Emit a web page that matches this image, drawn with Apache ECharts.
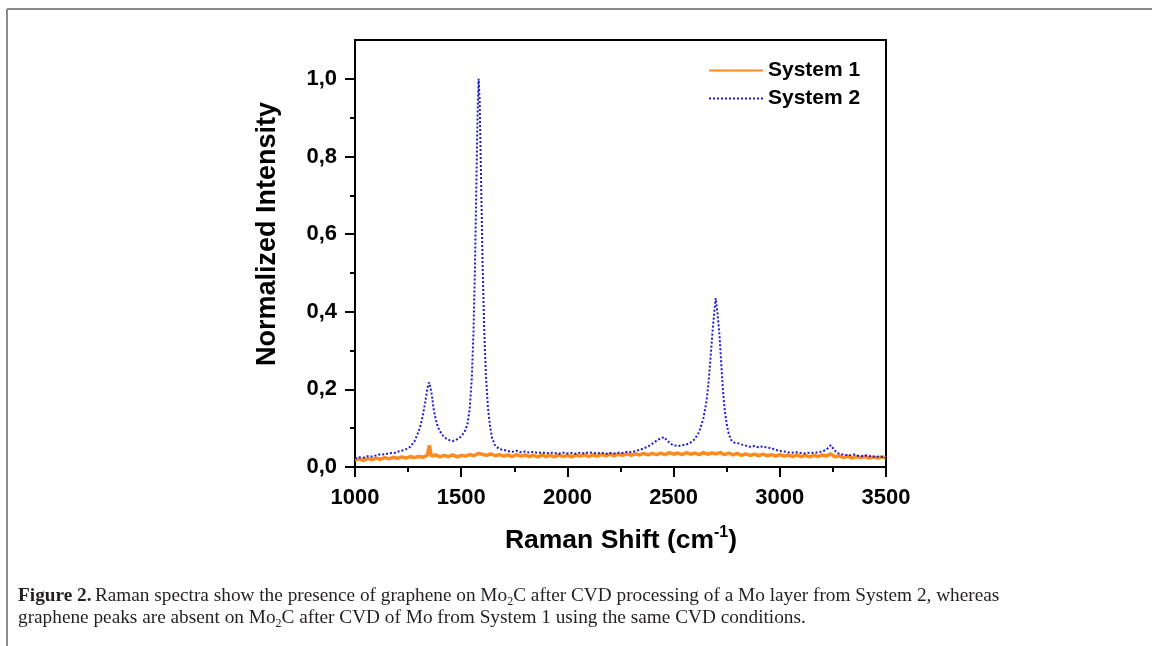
<!DOCTYPE html>
<html>
<head>
<meta charset="utf-8">
<script src="https://cdn.jsdelivr.net/npm/echarts@6/dist/echarts.min.js"></script>
<style>
  html, body { margin: 0; padding: 0; background: #fff; }
  #chart { width: 1152px; height: 646px; }
</style>
</head>
<body>
<div id="chart"></div>
<script>
// System 2 (graphene peaks D, G, 2D)
const shift2 = [1000,1020,1040,1060,1080,1100,1120,1140,1160,1180,1200,1220,1240,1260,1280,1300,1310,1320,1330,1340,1348,1355,1362,1370,1380,1390,1400,1415,1430,1445,1460,1475,1490,1505,1520,1530,1540,1550,1558,1565,1572,1578,1582,1587,1593,1600,1608,1616,1625,1635,1645,1660,1680,1700,1720,1740,1760,1780,1800,1820,1840,1860,1880,1900,1920,1940,1960,1980,2000,2020,2040,2060,2080,2100,2120,2140,2160,2180,2200,2220,2240,2260,2280,2300,2320,2340,2360,2380,2400,2420,2440,2455,2470,2485,2500,2520,2540,2560,2580,2600,2620,2640,2655,2665,2675,2685,2692,2698,2702,2706,2710,2716,2724,2732,2740,2750,2760,2770,2785,2800,2820,2840,2860,2880,2900,2920,2940,2960,2980,3000,3020,3040,3060,3080,3100,3120,3140,3160,3180,3200,3220,3240,3255,3270,3290,3310,3330,3350,3370,3390,3410,3430,3450,3470,3490,3500]
const intensity2 = [0.022,0.025,0.024,0.028,0.027,0.030,0.033,0.032,0.036,0.035,0.039,0.042,0.046,0.052,0.066,0.092,0.110,0.135,0.165,0.200,0.218,0.205,0.185,0.150,0.122,0.104,0.092,0.080,0.073,0.069,0.067,0.070,0.074,0.082,0.095,0.112,0.150,0.230,0.350,0.520,0.750,0.930,1.000,0.940,0.760,0.540,0.360,0.240,0.160,0.108,0.075,0.055,0.046,0.044,0.041,0.039,0.042,0.038,0.040,0.037,0.039,0.036,0.038,0.035,0.037,0.036,0.034,0.037,0.035,0.036,0.034,0.037,0.035,0.038,0.036,0.035,0.037,0.034,0.036,0.035,0.037,0.036,0.039,0.038,0.041,0.044,0.048,0.053,0.060,0.068,0.074,0.077,0.068,0.060,0.056,0.054,0.056,0.058,0.063,0.072,0.090,0.125,0.170,0.220,0.290,0.360,0.400,0.435,0.440,0.400,0.395,0.340,0.270,0.200,0.150,0.110,0.085,0.070,0.063,0.062,0.058,0.055,0.052,0.054,0.051,0.053,0.050,0.049,0.044,0.041,0.040,0.038,0.037,0.038,0.036,0.035,0.037,0.036,0.038,0.040,0.045,0.056,0.045,0.036,0.033,0.031,0.030,0.032,0.029,0.028,0.030,0.027,0.026,0.027,0.025,0.024]

// System 1 (flat, small spike near 1350)
const shift1 = [1000,1020,1040,1060,1080,1100,1120,1140,1160,1180,1200,1220,1240,1260,1280,1300,1320,1340,1350,1360,1380,1400,1420,1440,1460,1480,1500,1520,1540,1560,1580,1600,1620,1640,1660,1680,1700,1720,1740,1760,1780,1800,1820,1840,1860,1880,1900,1920,1940,1960,1980,2000,2020,2040,2060,2080,2100,2120,2140,2160,2180,2200,2220,2240,2260,2280,2300,2320,2340,2360,2380,2400,2420,2440,2460,2480,2500,2520,2540,2560,2580,2600,2620,2640,2660,2680,2700,2720,2740,2760,2780,2800,2820,2840,2860,2880,2900,2920,2940,2960,2980,3000,3020,3040,3060,3080,3100,3120,3140,3160,3180,3200,3220,3240,3260,3280,3300,3320,3340,3360,3380,3400,3420,3440,3460,3480,3500]
const intensity1 = [0.018,0.021,0.017,0.022,0.019,0.023,0.020,0.024,0.021,0.025,0.022,0.026,0.023,0.027,0.024,0.027,0.025,0.030,0.056,0.028,0.031,0.026,0.030,0.027,0.031,0.026,0.030,0.028,0.032,0.029,0.035,0.033,0.030,0.034,0.029,0.032,0.028,0.031,0.027,0.032,0.028,0.031,0.027,0.030,0.026,0.031,0.027,0.030,0.026,0.031,0.027,0.030,0.026,0.031,0.028,0.032,0.027,0.031,0.028,0.032,0.029,0.033,0.029,0.033,0.030,0.034,0.030,0.034,0.031,0.035,0.031,0.035,0.032,0.036,0.032,0.037,0.033,0.036,0.032,0.037,0.033,0.036,0.032,0.037,0.033,0.036,0.034,0.037,0.032,0.036,0.031,0.035,0.030,0.034,0.030,0.033,0.029,0.033,0.029,0.032,0.028,0.032,0.028,0.031,0.027,0.031,0.027,0.030,0.026,0.030,0.027,0.031,0.028,0.034,0.026,0.029,0.024,0.028,0.023,0.027,0.024,0.027,0.023,0.026,0.023,0.026,0.024]

const yTicks = [0, 0.2, 0.4, 0.6, 0.8, 1.0]
const yMinorTicks = [0.1, 0.3, 0.5, 0.7, 0.9]
const seriesNames = ['System 1', 'System 2']

const pair = (xs, ys) => xs.map((x, i) => [x, ys[i]])

const chart = echarts.init(document.getElementById('chart'))
const sans = '"Liberation Sans", Arial, sans-serif'
const serif = '"Liberation Serif", "Times New Roman", serif'

const option = {
  animation: false,
  backgroundColor: '#fff',
  grid: {
    left: 355,
    top: 40,
    width: 531,
    height: 427,
    show: true,
    borderColor: '#000',
    borderWidth: 2
  },
  legend: {
    data: seriesNames,
    orient: 'vertical',
    left: 703,
    top: 55,
    itemWidth: 54,
    itemHeight: 14,
    itemGap: 7,
    itemStyle: { opacity: 0 },
    textStyle: {
      fontFamily: sans,
      fontWeight: 'bold',
      fontSize: 21,
      color: '#000'
    }
  },
  xAxis: {
    type: 'value',
    min: 1000,
    max: 3500,
    interval: 500,
    axisLine: { lineStyle: { color: '#000', width: 2 } },
    axisTick: { length: 10, lineStyle: { color: '#000', width: 2 } },
    minorTick: { show: true, splitNumber: 2, length: 5, lineStyle: { color: '#000', width: 2 } },
    splitLine: { show: false },
    axisLabel: {
      margin: 20,
      fontFamily: sans,
      fontWeight: 'bold',
      fontSize: 22,
      color: '#000',
      formatter: v => String(v)
    }
  },
  yAxis: [
    {
      type: 'value',
      min: 0,
      max: 1.1,
      interval: 0.2,
      axisLine: { show: true, lineStyle: { color: '#000', width: 2 } },
      axisTick: { show: true, length: 10, customValues: yTicks, lineStyle: { color: '#000', width: 2 } },
      splitLine: { show: false },
      axisLabel: {
        margin: 18,
        customValues: yTicks,
        fontFamily: sans,
        fontWeight: 'bold',
        fontSize: 22,
        color: '#000',
        formatter: v => v.toFixed(1).replace('.', ',')
      }
    },
    {
      type: 'value',
      position: 'left',
      min: 0,
      max: 1.1,
      interval: 0.1,
      axisLine: { show: false },
      axisTick: { show: true, length: 5, customValues: yMinorTicks, lineStyle: { color: '#000', width: 2 } },
      splitLine: { show: false },
      axisLabel: { show: false }
    }
  ],
  series: [
    {
      name: 'System 1',
      type: 'line',
      data: pair(shift1, intensity1),
      symbol: 'none',
      color: '#ff8a1e',
      lineStyle: { color: '#ff8a1e', width: 3.5 },
      z: 2
    },
    {
      name: 'System 2',
      type: 'line',
      data: pair(shift2, intensity2),
      symbol: 'none',
      color: '#1c1cd0',
      lineStyle: { color: '#1c1cd0', width: 2, type: [2, 2] },
      z: 3
    }
  ],
  graphic: [
    // figure frame
    { type: 'line', shape: { x1: 7, y1: 9, x2: 1152, y2: 9 }, style: { stroke: '#8a8a8a', lineWidth: 2 } },
    { type: 'line', shape: { x1: 7, y1: 9, x2: 7, y2: 646 }, style: { stroke: '#8a8a8a', lineWidth: 2 } },
    // y axis title
    {
      type: 'text',
      x: 268,
      y: 234,
      rotation: Math.PI / 2,
      style: {
        text: 'Normalized Intensity',
        fontFamily: sans,
        fontWeight: 'bold',
        fontSize: 27,
        fill: '#000',
        align: 'center',
        verticalAlign: 'middle'
      }
    },
    // x axis title
    {
      type: 'text',
      x: 621,
      y: 541,
      style: {
        text: '{a|Raman Shift (cm}{s|-1}{a|)}',
        align: 'center',
        verticalAlign: 'middle',
        rich: {
          a: { fontFamily: sans, fontWeight: 'bold', fontSize: 26.5, lineHeight: 32, fill: '#000' },
          s: { fontFamily: sans, fontWeight: 'bold', fontSize: 16, lineHeight: 32, verticalAlign: 'top', fill: '#000' }
        }
      }
    },
    // caption
    {
      type: 'text',
      x: 18,
      y: 596,
      style: {
        text: '{b|Figure 2.} {r|Raman spectra show the presence of graphene on Mo}{s|2}{r|C after CVD processing of a Mo layer from System 2, whereas}',
        verticalAlign: 'middle',
        rich: {
          b: { fontFamily: serif, fontWeight: 'bold', fontSize: 19.3, lineHeight: 24, fill: '#231f20' },
          r: { fontFamily: serif, fontSize: 19.3, lineHeight: 24, fill: '#231f20' },
          s: { fontFamily: serif, fontSize: 12, lineHeight: 24, verticalAlign: 'bottom', fill: '#231f20' }
        }
      }
    },
    {
      type: 'text',
      x: 18,
      y: 618,
      style: {
        text: '{r|graphene peaks are absent on Mo}{s|2}{r|C after CVD of Mo from System 1 using the same CVD conditions.}',
        verticalAlign: 'middle',
        rich: {
          r: { fontFamily: serif, fontSize: 19.3, lineHeight: 24, fill: '#231f20' },
          s: { fontFamily: serif, fontSize: 12, lineHeight: 24, verticalAlign: 'bottom', fill: '#231f20' }
        }
      }
    }
  ]
}

chart.setOption(option)
</script>
</body>
</html>
